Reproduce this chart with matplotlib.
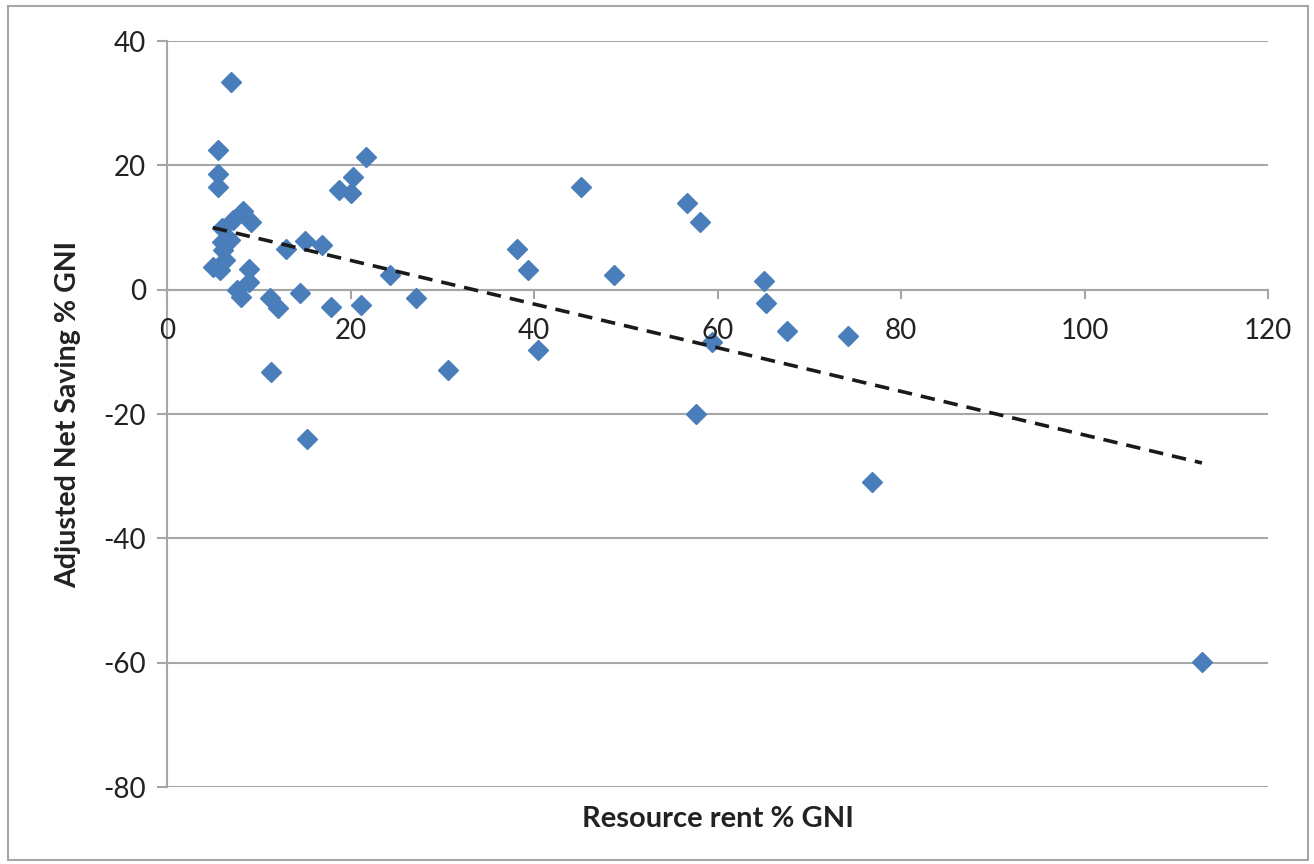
import numpy as np
import matplotlib
matplotlib.use('Agg')
import matplotlib.pyplot as plt
from matplotlib.patches import Rectangle

plt.rcParams['font.family'] = ['Lato', 'DejaVu Sans']
plt.rcParams['axes.unicode_minus'] = False

# resource rent (% GNI) vs adjusted net saving (% GNI)
rent = [7.0, 5.6, 5.6, 5.6, 21.7, 20.3, 18.8, 20.1,
        8.3, 7.2, 9.2, 6.0, 6.0, 6.9, 6.1, 6.3, 5.0, 5.8, 8.9, 8.9, 7.6, 8.1,
        13.0, 15.0, 16.9, 11.2, 12.1, 14.5, 17.9, 21.1, 24.3,
        11.3, 15.3, 27.1, 30.6,
        38.1, 39.3, 40.4, 45.1, 48.7, 56.7, 58.1, 57.7, 59.4,
        65.1, 65.3, 67.6, 74.2, 76.8, 112.8]
saving = [33.4, 22.4, 18.6, 16.6, 21.4, 18.1, 16.0, 15.5,
          12.6, 11.2, 10.9, 9.9, 7.7, 8.0, 6.4, 4.8, 3.7, 3.2, 3.4, 1.3, 0.0, -1.1,
          6.5, 7.9, 7.2, -1.3, -3.0, -0.5, -2.8, -2.5, 2.4,
          -13.2, -24.0, -1.4, -12.9,
          6.6, 3.2, -9.7, 16.5, 2.4, 13.9, 10.9, -20.0, -8.4,
          1.4, -2.1, -6.6, -7.5, -30.9, -59.9]

x = np.array(rent)
y = np.array(saving)

fig = plt.figure(figsize=(13.14, 8.64), dpi=100)
ax = fig.add_axes([0.1271, 0.0891, 0.9650 - 0.1271, 0.9525 - 0.0891])

grid_c = '#a6a6a6'

# outer chart border
fig.patches.append(Rectangle((8 / 1314, 4 / 864), 1300 / 1314, 854 / 864,
                             transform=fig.transFigure, fill=False,
                             edgecolor=grid_c, linewidth=1.5))

ax.plot(x, y, linestyle='none', marker='D', markersize=10.5,
        color='#4a7ebb', zorder=3)

# linear trendline
k, b = np.polyfit(x, y, 1)
xs = np.array([x.min(), x.max()])
ax.plot(xs, k * xs + b, color='#1a1a1a', linestyle=(0, (4, 2.5)),
        linewidth=2.6, zorder=4)

ax.set_xlim(0, 120)
ax.set_ylim(-80, 40)
ax.set_xticks(np.arange(0, 121, 20))
ax.set_yticks(np.arange(-80, 41, 20))

ax.yaxis.grid(True, color=grid_c, linewidth=1.5)
ax.set_axisbelow(True)

for s in ['top', 'right', 'bottom']:
    ax.spines[s].set_visible(False)
ax.spines['left'].set_color(grid_c)
ax.spines['left'].set_linewidth(1.5)

# x axis drawn at y = 0
ax.axhline(0, color=grid_c, linewidth=1.5, zorder=2)
for t in ax.get_xticks():
    ax.plot([t, t], [0, -1.4], color=grid_c, linewidth=1.5, zorder=2,
            clip_on=False)
    ax.text(t, -6.6, f'{t:g}', ha='center', va='center', fontsize=20,
            color='#222222')
ax.set_xticklabels([])
ax.tick_params(axis='x', length=0)

ax.tick_params(axis='y', length=7, width=1.5, color=grid_c, labelsize=20,
               labelcolor='#222222', pad=8)

ax.set_xlabel('Resource rent % GNI', fontsize=21, fontweight='bold',
              color='#222222', labelpad=10)
ax.set_ylabel('Adjusted Net Saving % GNI', fontsize=20.5, fontweight='bold',
              color='#222222', labelpad=16)

fig.savefig('out.png', dpi=100)
